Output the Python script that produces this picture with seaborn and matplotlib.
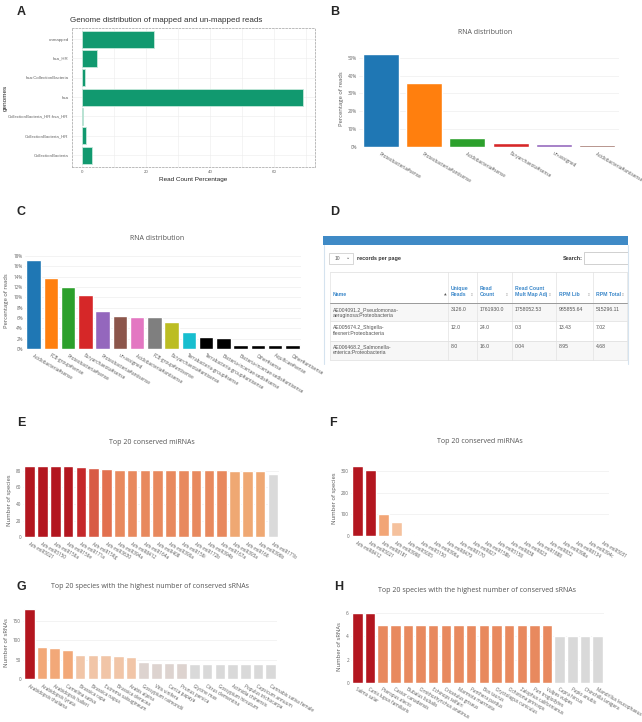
import matplotlib
matplotlib.use("Agg")
import matplotlib.pyplot as plt
import seaborn as sns
from matplotlib.patches import Rectangle

sns.set_theme(style="white")
plt.rcParams['font.family'] = ['Open Sans', 'DejaVu Sans']

# ---------------- data ----------------
a_genomes = ["unmapped", "hsa_HR", "hsa:CollectionBacteria", "hsa",
             "CollectionBacteria_HR:hsa_HR", "CollectionBacteria_HR", "CollectionBacteria"]
a_pct = [22.5, 4.7, 1.0, 69.0, 0.3, 1.2, 3.1]

b_cats = ["Proteobacteria#sense", "Proteobacteria#antisense", "Acidobacteria#sense",
          "Euryarchaeota#sense", "un-assigned", "Acidobacteria#antisense"]
b_pct = [52.3, 36.0, 4.8, 2.1, 1.7, 1.0]

c_cats = ["Acidobacteria#sense", "FCB-group#sense", "Proteobacteria#sense", "Euryarchaeota#sense",
          "Proteobacteria#antisense", "un-assigned", "Acidobacteria#antisense", "FCB-group#antisense",
          "Euryarchaeota#antisense", "Terrabacteria-group#sense", "Terrabacteria-group#antisense",
          "Bacteria-incertae-sedis#sense", "Bacteria-incertae-sedis#antisense", "Other#sense",
          "Aquificae#sense", "Other#antisense"]
c_pct = [17.3, 13.8, 12.0, 10.4, 7.3, 6.4, 6.2, 6.1, 5.2, 3.2, 2.3, 2.2, 0.8, 0.7, 0.7, 0.7]

d_columns = ["Name", "Unique\nReads", "Read\nCount", "Read Count\nMult Map Adj", "RPM Lib", "RPM Total"]
d_names = ["AE004091.2_Pseudomonas-\naeruginosa:Proteobacteria",
           "AE005674.2_Shigella-\nflexneri:Proteobacteria",
           "AE006468.2_Salmonella-\nenterica:Proteobacteria"]
d_unique = ["3126.0", "12.0", "8.0"]
d_count = ["1761930.0", "24.0", "16.0"]
d_adj = ["1758052.53", "0.3", "0.04"]
d_rpm_lib = ["985855.64", "13.43", "8.95"]
d_rpm_total = ["515296.11", "7.02", "4.68"]

e_mirnas = ["Ath-miR5021", "Ath-miR5150", "Ath-miR156a", "Ath-miR156e", "Ath-miR171a", "Ath-miR156g",
            "Ath-miR3630", "Ath-miR394a", "Ath-miR8412", "Ath-miR164a", "Ath-miR408", "Ath-miR390a",
            "Ath-miR156i", "Ath-miR172b", "Ath-miR394b", "Ath-miR167a", "Ath-miR393a", "Ath-miR166",
            "Ath-miR396b", "Ath-miR171b"]
e_species = [85, 85, 85, 85, 84, 83, 82, 81, 81, 81, 81, 81, 81, 81, 81, 81, 80, 80, 80, 76]

f_mirnas = ["Ath-miR8412", "Ath-miR5021", "Ath-miR8181", "Ath-miR3998", "Ath-miR5005", "Ath-miR5150",
            "Ath-miR396a", "Ath-miR8479", "Ath-miR8170", "Ath-miR827", "Ath-miR158b", "Ath-miR5158",
            "Ath-miR838", "Ath-miR823", "Ath-miR1888", "Ath-miR832", "Ath-miR398a", "Ath-miR8134",
            "Ath-miR394c", "Ath-miR5031"]
f_species = [323, 306, 103, 63, 5, 3, 2, 2, 1, 1, 1, 1, 1, 1, 1, 1, 1, 1, 1, 1]

g_species = ["Arabidopsis thaliana", "Arabidopsis lyrata", "Arabidopsis halleri", "Camelina sativa",
             "Brassica rapa", "Brassica napus", "Eutrema salsugineum", "Brassica oleracea",
             "Arabis alpina", "Gossypium raimondii", "Vitis vinifera", "Carica papaya",
             "Prunus persica", "Glycine max", "Citrus clementina", "Gossypium hirsutum",
             "Actinidia chinensis", "Populus trichocarpa", "Capsicum annuum", "Cannabis sativa female"]
g_srnas = [179, 83, 79, 75, 62, 61, 61, 59, 58, 43, 42, 41, 41, 40, 40, 39, 39, 38, 38, 38]

h_species = ["Salmo salar", "Canis lupus familiaris", "Pteropus alecto", "Castor canadensis",
             "Bubalus bubalis", "Ornithorhynchus anatinus", "Echinops telfairi", "Cricetulus griseus",
             "Marmota marmota", "Panthera pardus", "Bos taurus", "Oryctolagus cuniculus",
             "Ochotona princeps", "Zalophus californianus", "Pan troglodytes", "Vulpes vulpes",
             "Capra hircus", "Papio anubis", "Chinchilla lanigera", "Mandrillus leucophaeus"]
h_srnas = [6, 6, 5, 5, 5, 5, 5, 5, 5, 5, 5, 5, 5, 5, 5, 5, 4, 4, 4, 4]

# ---------------- styles ----------------
TAB10 = ["#1f77b4", "#ff7f0e", "#2ca02c", "#d62728", "#9467bd",
         "#8c564b", "#e377c2", "#7f7f7f", "#bcbd22", "#17becf"]
b_colors = TAB10[:6]
c_colors = TAB10 + ["#000000"] * 6
DR = "#b3161f"
e_colors = [DR] * 4 + ["#c5282b", "#d85a44", "#e2704f"] + ["#e8895e"] * 9 + ["#efa873"] * 3 + ["#dadada"]
f_colors = [DR, DR, "#f2a576", "#f5c19d"] + ["#e8d8d0"] * 16
g_colors = [DR] + ["#f2a878"] * 3 + ["#f1c5a7"] * 5 + ["#ddd3cf"] * 4 + ["#d9d9d9"] * 7
h_colors = [DR, DR] + ["#e8895e"] * 14 + ["#d9d9d9"] * 4

ARIAL = ["Liberation Sans", "DejaVu Sans"]
W, H = 642, 722
fig = plt.figure(figsize=(W / 100, H / 100), dpi=100)


def px_axes(x0, y0, x1, y1):
    return fig.add_axes([x0 / W, 1 - y1 / H, (x1 - x0) / W, (y1 - y0) / H])


# ---------------- Panel A (ggplot-like) ----------------
ax = px_axes(72, 28, 315, 167)
sns.barplot(x=a_pct, y=a_genomes, orient="h", color="#11996f", edgecolor="#c4e8da",
            linewidth=0.6, width=0.88, saturation=1, ax=ax)
ax.set_xlim(-3.1, 72.8)
ax.set_ylim(6.62, -0.57)
ax.set_xticks([0, 20, 40, 60])
ax.set_xticks([10, 30, 50, 70], minor=True)
ax.grid(True, which="both", axis="x", color="#ececec", lw=0.4)
ax.grid(True, which="major", axis="y", color="#ececec", lw=0.4)
ax.set_axisbelow(True)
for s in ax.spines.values():
    s.set_linestyle((0, (2, 2)))
    s.set_color("#b0b0b0")
    s.set_linewidth(0.6)
ax.tick_params(axis="both", which="major", labelsize=3.2, colors="#666", length=1.2, width=0.4, pad=1.2)
ax.tick_params(axis="both", which="minor", length=0)
for t in ax.get_xticklabels() + ax.get_yticklabels():
    t.set_family(ARIAL)
ax.set_xlabel("Read Count Percentage", fontsize=4.6, color="#222", labelpad=2, family=ARIAL)
ax.set_ylabel("genomes", fontsize=4.6, color="#222", family=ARIAL)
ax.yaxis.set_label_coords((8 - 72) / 243, 0.5)
fig.text(70 / W, 1 - 20.5 / H, "Genome distribution of mapped and un-mapped reads",
         fontsize=5.8, color="#333", ha="left", va="center", family=ARIAL)


# ---------------- plotly-like panels ----------------
def plotly_bar(box, cats, vals, colors, ymax, yticks, ylabel, fmt="{:d}", width=0.83):
    ax = px_axes(*box)
    sns.barplot(x=cats, y=vals, hue=cats, palette=colors, order=cats, hue_order=cats,
                legend=False, width=width, saturation=1, ax=ax)
    ax.set_xlim(-0.5, len(cats) - 0.5)
    ax.set_ylim(0, ymax)
    ax.set_yticks(yticks)
    ax.set_yticklabels([fmt.format(v) for v in yticks])
    ax.grid(axis="y", color="#eeeeee", lw=0.5)
    ax.grid(axis="x", visible=False)
    ax.set_axisbelow(True)
    for s in ax.spines.values():
        s.set_visible(False)
    ax.axhline(0, color="#e2e2e2", lw=0.6, zorder=0.5)
    ax.tick_params(axis="y", length=0, labelsize=3.3, colors="#666", pad=1.5)
    ax.tick_params(axis="x", length=0, labelsize=3.3, colors="#555", pad=3)
    for t in ax.get_xticklabels():
        t.set_rotation(-30)
        t.set_ha("left")
        t.set_rotation_mode("anchor")
    ax.set_xlabel("")
    ax.set_ylabel(ylabel, fontsize=4.2, color="#555", labelpad=3)
    return ax


plotly_bar((359, 50.5, 619, 147), b_cats, b_pct, b_colors, 54, [0, 10, 20, 30, 40, 50],
           "Percentage of reads", fmt="{:d}%")
plotly_bar((25, 252.9, 301, 349), c_cats, c_pct, c_colors, 18.6, list(range(0, 19, 2)),
           "Percentage of reads", fmt="{:d}%")
plotly_bar((23.3, 463, 279.3, 537.3), e_mirnas, e_species, e_colors, 89, [0, 20, 40, 60, 80],
           "Number of species")
plotly_bar((351, 461, 609, 536), f_mirnas, f_species, f_colors, 347, [0, 100, 200, 300],
           "Number of species")
plotly_bar((23, 605, 277, 679.3), g_species, g_srnas, g_colors, 190, [0, 50, 100, 150],
           "Number of sRNAs")
plotly_bar((351, 609.5, 604, 682.7), h_species, h_srnas, h_colors, 6.33, [0, 2, 4, 6],
           "Number of sRNAs")

titles = [(485, 33, "RNA distribution"), (157, 238, "RNA distribution"),
          (152, 442, "Top 20 conserved miRNAs"), (480, 441, "Top 20 conserved miRNAs"),
          (150, 587, "Top 20 species with the highest number of conserved sRNAs"),
          (477, 590, "Top 20 species with the highest number of conserved sRNAs")]
for x, y, t in titles:
    fig.text(x / W, 1 - y / H, t, fontsize=5.0, color="#555", ha="center", va="center")

# ---------------- overlay (panel letters + table D) ----------------
ov = fig.add_axes([0, 0, 1, 1])
ov.set_xlim(0, W)
ov.set_ylim(H, 0)
ov.axis("off")
ov.patch.set_alpha(0)

for x, y, t in [(21, 12, "A"), (335, 12, "B"), (21, 212, "C"), (335, 212, "D"),
                (21, 423, "E"), (333, 423, "F"), (21, 587, "G"), (339, 587, "H")]:
    ov.text(x, y, t, fontsize=9, fontweight="bold", ha="center", va="center", family=ARIAL)

# table frame
ov.add_patch(Rectangle((323, 236), 305, 9, color="#3f8ac6", lw=0))
ov.plot([323.5, 323.5], [245, 364], color="#d5e3ef", lw=0.8)
ov.plot([627.5, 627.5], [245, 364], color="#d5e3ef", lw=0.8)
ov.add_patch(Rectangle((329, 252.5), 24, 11, fill=False, edgecolor="#c8c8c8", lw=0.5))
ov.text(335, 258, "10", fontsize=3.6, color="#555", va="center", family=ARIAL)
ov.text(346, 257.5, "⌄", fontsize=3.6, color="#555", va="center", family=["DejaVu Sans"])
ov.text(357, 258.5, "records per page", fontsize=3.9, color="#333", fontweight="bold",
        va="center", family=ARIAL)
ov.text(582.5, 259, "Search:", fontsize=3.9, color="#333", fontweight="bold",
        va="center", ha="right", family=ARIAL)
ov.add_patch(Rectangle((584, 252), 44, 12, fill=False, edgecolor="#bdbdbd", lw=0.5))

col_x = [330, 448, 477, 512, 556, 593, 627]
t_top, h_bot = 272, 303
row_tops = [303, 321, 340.5]
row_bot = 360
for i, y0 in enumerate(row_tops):
    y1 = row_tops[i + 1] if i + 1 < len(row_tops) else row_bot
    if i % 2 == 0:
        ov.add_patch(Rectangle((col_x[0], y0), col_x[-1] - col_x[0], y1 - y0, color="#f7f7f7", lw=0))
    ov.plot([col_x[0], col_x[-1]], [y1, y1], color="#dddddd", lw=0.5)
ov.plot([col_x[0], col_x[-1]], [t_top, t_top], color="#dddddd", lw=0.5)
for x in col_x:
    ov.plot([x, x], [t_top, row_bot], color="#e2e2e2", lw=0.5)
ov.plot([col_x[0], col_x[-1]], [h_bot, h_bot], color="#9a9a9a", lw=0.7)

HB = "#3a87c9"
hdr_bottom = 297
for j, name in enumerate(d_columns):
    ov.text(col_x[j] + 3, hdr_bottom, name, fontsize=3.7, color=HB, fontweight="bold",
            ha="left", va="bottom", linespacing=1.25, family=ARIAL)
ov.text(445, 297, "▲", fontsize=2.5, color="#555", ha="center", va="bottom", family=["DejaVu Sans"])
sort_pos = [(473, 297), (508, 297), (551, 297), (590, 297), (624, 297)]
for x, y in sort_pos:
    ov.text(x, y, "⇕", fontsize=3.2, color="#aaaaaa", ha="right", va="bottom", family=["DejaVu Sans"])

body_cols = [d_names, d_unique, d_count, d_adj, d_rpm_lib, d_rpm_total]
for i, y0 in enumerate(row_tops):
    for j, col in enumerate(body_cols):
        ov.text(col_x[j] + 3, y0 + 4, col[i], fontsize=3.7, color="#555", ha="left", va="top",
                linespacing=1.25, family=ARIAL)

fig.savefig("out.png", dpi=100)
